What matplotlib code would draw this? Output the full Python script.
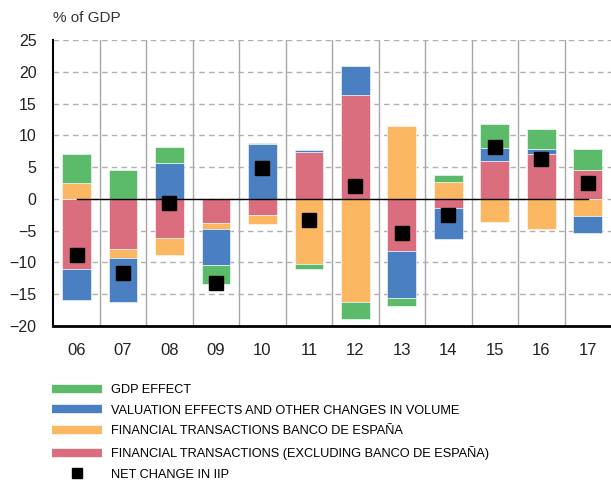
import matplotlib.pyplot as plt
from matplotlib.lines import Line2D
import numpy as np

plt.rcParams['font.family'] = ['Liberation Sans', 'DejaVu Sans']

years = ['06', '07', '08', '09', '10', '11', '12', '13', '14', '15', '16', '17']

# contributions, % of GDP
fin_excl = [-11.0, -7.9, -6.15, -3.8, -2.5, 7.45, 16.3, -8.2, -1.5, 5.9, 7.1, 4.6]
fin_bde = [2.5, -1.35, -2.75, -1.0, -1.4, -10.2, -16.2, 11.5, 2.6, -3.65, -4.7, -2.7]
valuation = [-4.95, -7.0, 5.6, -5.65, 8.65, 0.2, 4.6, -7.35, -4.85, 2.05, 0.8, -2.6]
gdp_effect = [4.5, 4.5, 2.55, -2.9, 0.2, -0.8, -2.7, -1.25, 1.1, 3.85, 3.1, 3.25]
net_iip = [-8.9, -11.7, -0.7, -13.3, 4.9, -3.4, 2.1, -5.35, -2.6, 8.1, 6.3, 2.5]

series = [
    (fin_excl, '#db6e7e', 'FINANCIAL TRANSACTIONS (EXCLUDING BANCO DE ESPAÑA)'),
    (fin_bde, '#fbb762', 'FINANCIAL TRANSACTIONS BANCO DE ESPAÑA'),
    (valuation, '#4a80c2', 'VALUATION EFFECTS AND OTHER CHANGES IN VOLUME'),
    (gdp_effect, '#5cbb6a', 'GDP EFFECT'),
]

fig = plt.figure(figsize=(6.11, 4.84), dpi=100)
ax = fig.add_axes([53.3 / 611, 158 / 484, 557.7 / 611, 286 / 484])

x = np.arange(len(years))
pos_base = np.zeros(len(years))
neg_base = np.zeros(len(years))
for vals, col, lab in series:
    v = np.array(vals)
    base = np.where(v >= 0, pos_base, neg_base)
    ax.bar(x, v, 0.62, bottom=base, color=col, edgecolor='white',
           linewidth=0.4, zorder=3)
    pos_base += np.where(v >= 0, v, 0)
    neg_base += np.where(v < 0, v, 0)

# zero line
ax.plot(x, np.zeros(len(years)), color='black', lw=1, zorder=4)
ax.plot(x, net_iip, 's', color='black', ms=9.5, zorder=5)

ax.set_xlim(-0.5, len(years) - 0.5)
ax.set_ylim(-20, 25)
ax.set_yticks(np.arange(-20, 26, 5))
ax.set_xticks(x)
ax.set_xticklabels(years, fontsize=12, color='#222222')
ax.tick_params(axis='x', length=0, pad=12)
ax.tick_params(axis='y', length=0, pad=12, labelsize=11.5, labelcolor='#222222')

for b in np.arange(0.5, len(years) - 0.5, 1):
    ax.axvline(b, color='#a8a8a8', lw=1, zorder=1)
for yv in np.arange(-15, 26, 5):
    ax.axhline(yv, color='#b0b0b0', lw=1, ls=(0, (4, 3)), zorder=1)

for s in ['top', 'right']:
    ax.spines[s].set_visible(False)
ax.spines['left'].set_linewidth(1.5)
ax.spines['bottom'].set_linewidth(2)

fig.text(53 / 611, 1 - 17.5 / 484, '% of GDP', fontsize=11, va='center',
         color='#333333')

handles = [Line2D([], [], color=c, lw=6, solid_capstyle='butt')
           for _, c, _ in series[::-1]]
labels = [l for _, _, l in series[::-1]]
handles.append(Line2D([], [], marker='s', color='black', ls='none', ms=7))
labels.append('NET CHANGE IN IIP')
fig.legend(handles, labels, loc='upper left',
           bbox_to_anchor=(52 / 611, 1 - 384 / 484), frameon=False,
           borderpad=0, borderaxespad=0, handlelength=3.9, handletextpad=0.75,
           labelspacing=0.68, prop={'size': 9.2})

fig.savefig('out.png', dpi=100)
